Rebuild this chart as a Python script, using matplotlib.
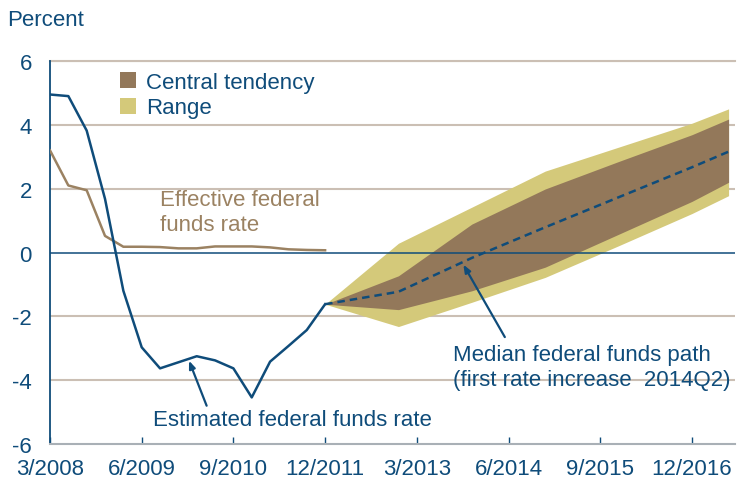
import matplotlib
matplotlib.use("Agg")
import matplotlib.pyplot as plt
from matplotlib.patches import Patch

plt.rcParams["font.family"] = ["Liberation Sans", "DejaVu Sans"]

BLUE = "#0f4c7a"
TAN = "#9b8262"
BROWN = "#93785a"
YELLOW = "#d4c97a"
GRID = "#cbbfb4"
FS = 16

# quarter index: 0 = 2008Q1
hist_q = list(range(16))
estimated = [4.95, 4.9, 3.82, 1.68, -1.2, -2.97, -3.63, -3.44, -3.25, -3.38,
             -3.63, -4.54, -3.42, -2.93, -2.43, -1.62]
effective = [3.2, 2.1, 1.95, 0.52, 0.18, 0.18, 0.17, 0.13, 0.13, 0.19,
             0.19, 0.19, 0.16, 0.1, 0.08, 0.07]

proj_q = [15, 19, 23, 27, 31, 35, 37]
range_hi = [-1.62, 0.29, 1.42, 2.55, 3.3, 4.05, 4.5]
range_lo = [-1.62, -2.32, -1.56, -0.78, 0.21, 1.22, 1.78]
central_hi = [-1.62, -0.73, 0.89, 1.99, 2.85, 3.69, 4.18]
central_lo = [-1.62, -1.79, -1.2, -0.46, 0.57, 1.6, 2.2]
median = [-1.62, -1.23, -0.17, 0.79, 1.73, 2.67, 3.16]

tick_q = [0, 5, 10, 15, 20, 25, 30, 35]
tick_labels = ["3/2008", "6/2009", "9/2010", "12/2011", "3/2013", "6/2014",
               "9/2015", "12/2016"]
y_ticks = [-6, -4, -2, 0, 2, 4, 6]

fig = plt.figure(figsize=(7.4, 4.89), dpi=100)
ax = fig.add_axes([50 / 740, 44 / 489, 685 / 740, 383 / 489])

# ── Bands and lines ──
ax.fill_between(proj_q, range_lo, range_hi, color=YELLOW, linewidth=0, zorder=2)
ax.fill_between(proj_q, central_lo, central_hi, color=BROWN, linewidth=0, zorder=3)
ax.plot(proj_q, median, color=BLUE, lw=1.8, ls=(0, (3, 2)), zorder=5)
ax.plot(hist_q, effective, color=TAN, lw=1.8, zorder=4)
ax.plot(hist_q, estimated, color=BLUE, lw=1.8, zorder=5)

# ── Axes styling ──
for y in y_ticks:
    if y == 0:
        ax.axhline(y, color=BLUE, lw=1.1, zorder=4)
    elif y != -6:
        ax.axhline(y, color=GRID, lw=1.5, zorder=1)

ax.set_xlim(0, 37.35)
ax.set_ylim(-6, 6)
ax.set_yticks(y_ticks)
ax.set_yticklabels([str(y) for y in y_ticks])
ax.set_xticks(tick_q)
ax.set_xticklabels(tick_labels)
ax.tick_params(axis="y", length=0, pad=13, labelsize=FS, labelcolor=BLUE)
ax.tick_params(axis="x", direction="in", length=5, width=1, color=BLUE,
               pad=10, labelsize=FS, labelcolor=BLUE)
ax.spines["top"].set_visible(False)
ax.spines["right"].set_visible(False)
ax.spines["left"].set_color(BLUE)
ax.spines["left"].set_linewidth(1.3)
ax.spines["bottom"].set_color("#a9b0b6")
ax.spines["bottom"].set_linewidth(1.5)
ax.plot([0, 1], [1, 1], transform=ax.transAxes, color=GRID, lw=1.5,
        clip_on=False, zorder=1)

fig.text(7 / 740, 1 - 20 / 489, "Percent", color=BLUE, fontsize=FS,
         ha="left", va="center")

# ── Legend ──
handles = [Patch(facecolor=BROWN, label="Central tendency"),
           Patch(facecolor=YELLOW, label="Range")]
leg = ax.legend(handles=handles, loc="upper left",
                bbox_to_anchor=(120 / 740, 1 - 73 / 489),
                bbox_transform=fig.transFigure, frameon=False,
                handlelength=0.72, handleheight=0.72, handletextpad=0.45,
                labelspacing=0.2, fontsize=FS, borderaxespad=0,
                borderpad=0)
for t in leg.get_texts():
    t.set_color(BLUE)

# ── Annotations ──
ax.text(6.0, 1.27, "Effective federal\nfunds rate", color=TAN, fontsize=FS,
        ha="left", va="center", linespacing=1.2)
ax.text(5.6, -5.24, "Estimated federal funds rate", color=BLUE,
        fontsize=FS, ha="left", va="center")
ax.annotate("", xy=(7.58, -3.39), xytext=(8.54, -4.8),
            arrowprops=dict(arrowstyle="-|>,head_length=0.45,head_width=0.18",
                            color=BLUE, lw=1.6, shrinkA=0, shrinkB=0))
ax.text(21.97, -3.59, "Median federal funds path\n(first rate increase  2014Q2)",
        color=BLUE, fontsize=FS, ha="left", va="center", linespacing=1.22)
ax.annotate("", xy=(22.54, -0.38), xytext=(24.8, -2.65),
            arrowprops=dict(arrowstyle="-|>,head_length=0.45,head_width=0.18",
                            color=BLUE, lw=1.6, shrinkA=0, shrinkB=0))

fig.savefig("out.png", dpi=100)
